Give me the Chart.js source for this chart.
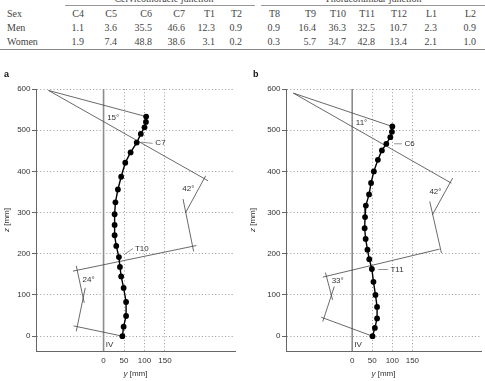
<!DOCTYPE html>
<html>
<head>
<meta charset="utf-8">
<script src="https://cdn.jsdelivr.net/npm/chart.js@4.4.1/dist/chart.umd.min.js"></script>
<style>
  body { margin: 0; background: #fff; }
  #wrap { position: relative; width: 485px; height: 381px; overflow: hidden; background: #fff; }
  .grp { position: absolute; top: -7px; height: 12px; line-height: 12px; text-align: center;
         font: 10px "Liberation Serif", "Times New Roman", serif; color: #444; }
  .rule { position: absolute; top: 5px; height: 1px; background: #999; }
  #tbl { position: absolute; top: 7px; left: 0; width: 485px; border-collapse: collapse; table-layout: fixed;
         font: 10px "Liberation Serif", "Times New Roman", serif; color: #444; border-bottom: 1.5px solid #888; }
  #tbl td { padding: 0; height: 14px; line-height: 14px; text-align: right; white-space: nowrap; }
  #tbl td:first-child { text-align: left; padding-left: 7px; }
  canvas { position: absolute; top: 60px; }
</style>
</head>
<body>
<div id="wrap">
  <div class="grp" style="left:65px;width:198px">Cervicothoracic junction</div>
  <div class="grp" style="left:261px;width:224px">Thoracolumbar junction</div>
  <div class="rule" style="left:65px;width:190px"></div>
  <div class="rule" style="left:261px;width:224px"></div>
  <table id="tbl"></table>
  <canvas id="chartA" width="242" height="321" style="left:0"></canvas>
  <canvas id="chartB" width="243" height="321" style="left:242px"></canvas>
</div>
<script>
// --- table data ---
const vertebrae = ["C4", "C5", "C6", "C7", "T1", "T2", "T8", "T9", "T10", "T11", "T12", "L1", "L2"];
const men = ["1.1", "3.6", "35.5", "46.6", "12.3", "0.9", "0.9", "16.4", "36.3", "32.5", "10.7", "2.3", "0.9"];
const women = ["1.9", "7.4", "48.8", "38.6", "3.1", "0.2", "0.3", "5.7", "34.7", "42.8", "13.4", "2.1", "1.0"];

// --- axes ---
const xMin = -165, xMax = 321, zMin = -36, zMax = 600;
const xTicks = [0, 50, 100, 150];
const zTicks = [0, 100, 200, 300, 400, 500, 600];
const zeroLine = [[0, zMax], [0, zMin]];

// --- panel a: spine centre line (y, z) in mm ---
const spineA = [
  [104, 533], [103.5, 520], [100, 507], [91, 491], [81, 470], [66, 446], [53, 421],
  [43, 387], [35, 356], [29, 325], [27, 296], [27, 270], [27, 245], [31, 219],
  [37.5, 192], [40, 168], [43, 145], [49, 117], [55, 83], [55, 49], [49, 23], [46, 0],
];
const anglesA = [
  [[-134.5, 596.5], [104, 533]],
  [[-134.5, 596.5], [255.3, 377.2]],
  [[249.4, 389.4], [199.8, 298.8]],
  [[194.1, 332.8], [220, 205.5]],
  [[-74.8, 157.9], [226.6, 220]],
  [[-66.7, 170.8], [-47.2, 80.9]],
  [[-44.7, 117.3], [-66.7, 11.7]],
  [[-73.3, 25], [46, 0]],
];
const leadersA = [
  [[92, 471], [120, 468]],
  [[50.6, 198.2], [71.9, 212.8]],
];
const labelsA = [
  ["15°", 23.5, 531, "center"], ["C7", 126.5, 470, "left"], ["42°", 207, 358, "center"],
  ["T10", 76.7, 211.6, "left"], ["24°", -36.6, 138, "center"], ["IV", 14.7, -21, "center"],
];

// --- panel b ---
const spineB = [
  [100, 509], [99, 496], [95, 483], [85, 467], [74, 451], [64, 428], [54, 400],
  [47, 372], [42, 344], [34, 317], [32, 289], [31, 262], [33.5, 236], [38, 210],
  [42.5, 187], [49, 163], [53, 132], [58, 100], [62, 71], [62, 43], [56.5, 20], [50.6, 0],
];
const anglesB = [
  [[-146.7, 590], [100, 509]],
  [[-146.7, 590], [247, 371.6]],
  [[250.4, 383.8], [199.8, 294.6]],
  [[193.2, 327], [222.5, 201.6]],
  [[-73.3, 143.3], [217.6, 211.3]],
  [[-66.7, 154.5], [-48.9, 88.2]],
  [[-44.7, 120.5], [-73.3, 35.5]],
  [[-77.3, 46], [50.6, 0]],
];
const leadersB = [
  [[104.4, 467], [124, 467]],
  [[65.3, 161.8], [89, 161.8]],
];
const labelsB = [
  ["11°", 23.3, 517, "center"], ["C6", 130.5, 467, "left"], ["42°", 207.5, 351, "center"],
  ["T11", 95.4, 161, "left"], ["33°", -36.2, 133.6, "center"], ["IV", 14.7, -21, "center"],
];

// build table
const tbl = document.getElementById("tbl");
const colW = [54, 30, 33, 35, 33, 30, 27, 38, 36, 30, 29, 32, 30, 39, 9];
tbl.innerHTML =
  "<colgroup>" + colW.map(w => `<col style="width:${w}px">`).join("") + "</colgroup>" +
  [["Sex", vertebrae], ["Men", men], ["Women", women]]
    .map(([h, row]) => "<tr><td>" + h + "</td>" + row.map(v => "<td>" + v + "</td>").join("") + "<td></td></tr>")
    .join("");

const SANS = '"Liberation Sans", Arial, Helvetica, sans-serif';
const toXY = pairs => pairs.map(([x, y]) => ({ x, y }));

function mixedText(ctx, ital, rest, cx, cy, size) {
  ctx.font = `italic ${size}px ${SANS}`;
  const w1 = ctx.measureText(ital).width;
  ctx.font = `${size}px ${SANS}`;
  const w2 = ctx.measureText(rest).width;
  const x0 = cx - (w1 + w2) / 2;
  ctx.textAlign = "left";
  ctx.font = `italic ${size}px ${SANS}`;
  ctx.fillText(ital, x0, cy);
  ctx.font = `${size}px ${SANS}`;
  ctx.fillText(rest, x0 + w1, cy);
}

const figureText = {
  id: "figureText",
  afterDraw(chart, args, o) {
    const { ctx, chartArea: a, scales: { x, y } } = chart;
    ctx.save();
    ctx.fillStyle = "#333";
    ctx.textBaseline = "middle";
    ctx.font = `8px ${SANS}`;
    o.labels.forEach(([t, vx, vz, align]) => {
      ctx.textAlign = align;
      ctx.fillText(t, x.getPixelForValue(vx), y.getPixelForValue(vz));
    });
    // panel letter
    ctx.fillStyle = "#111";
    ctx.font = `bold 9px ${SANS}`;
    ctx.textAlign = "left";
    ctx.fillText(o.letter, o.letterX, 15);
    // axis titles
    ctx.fillStyle = "#333";
    mixedText(ctx, "y", " [mm]", (a.left + a.right) / 2, 314, 8);
    ctx.translate(o.titleX, (a.top + a.bottom) / 2);
    ctx.rotate(-Math.PI / 2);
    mixedText(ctx, "z", " [mm]", 0, 0, 8);
    ctx.restore();
  },
};

function panel(id, spine, angles, leaders, labels, opt) {
  const datasets = [
    { data: toXY(spine), showLine: true, borderColor: "#000", borderWidth: 1.4,
      pointRadius: 2.9, pointBackgroundColor: "#000", pointBorderWidth: 0 },
    ...angles.map(l => ({ data: toXY(l), showLine: true, borderColor: "#444", borderWidth: 0.8, pointRadius: 0 })),
    ...leaders.map(l => ({ data: toXY(l), showLine: true, borderColor: "#777", borderWidth: 0.8, pointRadius: 0 })),
    { data: toXY(zeroLine), showLine: true, borderColor: "#8c8c8c", borderWidth: 1.6, pointRadius: 0 },
  ];
  return new Chart(document.getElementById(id), {
    type: "scatter",
    data: { datasets },
    options: {
      responsive: false,
      animation: false,
      events: [],
      layout: { padding: { top: 29, right: opt.padRight, left: 0, bottom: 0 } },
      plugins: {
        legend: { display: false },
        tooltip: { enabled: false },
        figureText: { labels, letter: opt.letter, letterX: opt.letterX, titleX: opt.titleX },
      },
      scales: {
        x: {
          type: "linear", min: xMin, max: xMax,
          afterBuildTicks: s => { s.ticks = xTicks.map(v => ({ value: v })); },
          afterFit: s => { s.height = 30; },
          grid: { color: "#9a9a9a", lineWidth: 1, drawTicks: false },
          border: { color: "#666", width: 1, dash: [1, 2.3] },
          ticks: { font: { family: SANS, size: 8 }, color: "#333", padding: 5 },
        },
        y: {
          type: "linear", min: zMin, max: zMax,
          afterBuildTicks: s => { s.ticks = zTicks.map(v => ({ value: v })); },
          afterFit: s => { s.width = opt.axisWidth; },
          grid: { color: "#9a9a9a", lineWidth: 1, tickLength: 4, tickColor: "#666" },
          border: { color: "#666", width: 1, dash: [1, 2.3] },
          ticks: { font: { family: SANS, size: 8 }, color: "#333", padding: 1.5 },
        },
      },
    },
    plugins: [figureText],
  });
}

panel("chartA", spineA, anglesA, leadersA, labelsA, { padRight: 7, axisWidth: 36, letter: "a", letterX: 4, titleX: 7 });
panel("chartB", spineB, anglesB, leadersB, labelsB, { padRight: 0, axisWidth: 44, letter: "b", letterX: 11, titleX: 11 });
</script>
</body>
</html>
